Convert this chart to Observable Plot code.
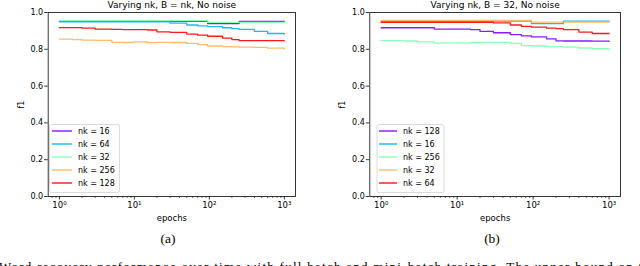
<!DOCTYPE html>
<html><head><meta charset="utf-8">
<script src="https://cdn.jsdelivr.net/npm/d3@7"></script>
<script src="https://cdn.jsdelivr.net/npm/@observablehq/plot@0.6"></script>
<style>
html,body{margin:0;padding:0;background:#fff;width:640px;height:266px;overflow:hidden}
#wrap{position:relative;width:640px;height:266px}
.panel{position:absolute;top:0}
#over{position:absolute;left:0;top:0}
</style></head><body><div id="wrap"></div>
<script>
// ---- data ----
const epochs = [1,1.5,2,3,5,7,10,15,20,30,50,70,95,150,200,250,400,600,1000];
const majorTicks = [1,10,100,1000];
const yTicks = [0,0.2,0.4,0.6,0.8,1.0];

// panel (a): Varying nk, B = nk
const labelsA = ["nk = 16","nk = 64","nk = 32","nk = 256","nk = 128"];
const a_nk16  = [.952,.952,.952,.952,.952,.952,.952,.952,.952,.952,.952,.952,.940,.940,.940,.952,.952,.952,.952];
const a_nk64  = [.949,.949,.949,.949,.949,.949,.949,.949,.949,.942,.932,.927,.923,.917,.912,.908,.897,.886,.882];
const a_nk32  = [.956,.956,.956,.956,.956,.956,.956,.956,.956,.956,.956,.956,.946,.946,.946,.946,.946,.946,.946];
const a_nk256 = [.855,.853,.850,.848,.838,.837,.840,.836,.838,.837,.832,.825,.818,.815,.813,.812,.810,.806,.800];
const a_nk128 = [.918,.918,.915,.910,.908,.907,.907,.905,.895,.892,.883,.877,.871,.861,.853,.847,.847,.847,.846];

// panel (b): Varying nk, B = 32
const labelsB = ["nk = 128","nk = 16","nk = 256","nk = 32","nk = 64"];
const b_nk128 = [.917,.917,.917,.917,.910,.910,.910,.907,.897,.890,.880,.873,.867,.857,.846,.845,.845,.844,.843];
const b_nk16  = [.953,.953,.953,.953,.953,.953,.953,.953,.953,.953,.953,.953,.940,.940,.940,.953,.953,.953,.953];
const b_nk256 = [.847,.847,.845,.840,.834,.835,.834,.837,.838,.838,.832,.820,.818,.815,.815,.812,.807,.803,.799];
const b_nk32  = [.957,.957,.957,.957,.957,.957,.957,.957,.957,.957,.957,.957,.948,.948,.948,.948,.948,.948,.948];
const b_nk64  = [.947,.947,.947,.947,.947,.947,.947,.947,.947,.944,.932,.925,.920,.915,.912,.907,.893,.886,.885];

const colors = ["#8000ff","#00b4ec","#80ffb4","#ffb462","#ff0000"]; // matplotlib rainbow, 5 steps
const titleA = "Varying nk, B = nk, No noise";
const titleB = "Varying nk, B = 32, No noise";
const caption = "Word recovery performance over time with full batch and mini-batch training. The upper bound on the";

// ---- drawing ----
const minorTicks = [0.8, 0.9];
for (const p of [1,10,100]) for (let k = 2; k <= 9; k++) minorTicks.push(p*k);
const sup = "⁰¹²³";
const fmtX = d => "10" + sup[Math.round(Math.log10(d))];

function rowsOf(labels, series) {
  const rows = [];
  labels.forEach((nk, i) => series[i].forEach((v, j) => rows.push({epoch: epochs[j], f1: v, nk})));
  return rows;
}

function panel(title, labels, series, mL, mR) {
  return Plot.plot({
    width: 320, height: 230,
    marginLeft: mL, marginRight: mR, marginTop: 12, marginBottom: 34,
    style: {fontFamily: "DejaVu Sans", fontSize: "8px", background: "transparent", overflow: "visible", color: "#000"},
    x: {type: "log", domain: [10 ** -0.15, 10 ** 3.15]},
    y: {domain: [0, 1]},
    color: {domain: labels, range: colors},
    marks: [
      Plot.axisX(minorTicks, {tickSize: 2, tickFormat: () => "", label: null, strokeWidth: 0.6}),
      Plot.axisX(majorTicks, {tickSize: 3.5, tickPadding: 1.5, tickFormat: fmtX, fontSize: 8.5, label: "epochs", labelAnchor: "center", labelOffset: 24, labelArrow: "none", strokeWidth: 0.8}),
      Plot.axisY(yTicks, {tickSize: 3.5, tickPadding: 1.5, tickFormat: d3.format(".1f"), label: "f1", labelAnchor: "center", labelOffset: 30, labelArrow: "none", strokeWidth: 0.8}),
      Plot.line(rowsOf(labels, series), {x: "epoch", y: "f1", z: "nk", stroke: "nk", strokeWidth: 1.3, strokeOpacity: 0.9, curve: "step-after"}),
      Plot.frame({stroke: "#222", strokeWidth: 0.9}),
      Plot.text([title], {frameAnchor: "top", lineAnchor: "bottom", dy: -5, fontSize: 9})
    ]
  });
}

const wrap = document.getElementById("wrap");
const pA = panel(titleA, labelsA, [a_nk16, a_nk64, a_nk32, a_nk256, a_nk128], 47.7, 25);
pA.classList.add("panel"); pA.style.left = "0px";
wrap.appendChild(pA);
const pB = panel(titleB, labelsB, [b_nk128, b_nk16, b_nk256, b_nk32, b_nk64], 49.3, 20);
pB.classList.add("panel"); pB.style.left = "320px";
wrap.appendChild(pB);

// overlay: legends, sub-captions, caption
const svg = d3.select(wrap).append("svg").attr("id", "over").attr("width", 640).attr("height", 266);
function legend(x0, w, lineX0, lineX1, textX, labels) {
  const g = svg.append("g").attr("font-family", "DejaVu Sans").attr("font-size", 8);
  g.append("rect").attr("x", x0).attr("y", 124.5).attr("width", w).attr("height", 68)
    .attr("rx", 2).attr("fill", "#fff").attr("fill-opacity", 0.85).attr("stroke", "#d0d0d0").attr("stroke-width", 0.8);
  labels.forEach((lab, i) => {
    const y = 131 + i * 13;
    g.append("line").attr("x1", lineX0).attr("x2", lineX1).attr("y1", y).attr("y2", y)
      .attr("stroke", colors[i]).attr("stroke-width", 1.3);
    g.append("text").attr("x", textX).attr("y", y).attr("dy", "0.35em").text(lab);
  });
}
legend(49.5, 70, 52, 72, 78, labelsA);
legend(377, 67, 379, 397, 403, labelsB);

const serif = svg.append("g").attr("font-family", "Liberation Serif").attr("font-size", 13.5).attr("fill", "#000");
serif.append("text").attr("x", 168).attr("y", 243).attr("text-anchor", "middle").text("(a)");
serif.append("text").attr("x", 492).attr("y", 243).attr("text-anchor", "middle").text("(b)");
serif.append("text").attr("x", -1).attr("y", 270.5).attr("font-size", 13)
  .attr("textLength", 658).attr("lengthAdjust", "spacing").text(caption);
</script></body></html>
